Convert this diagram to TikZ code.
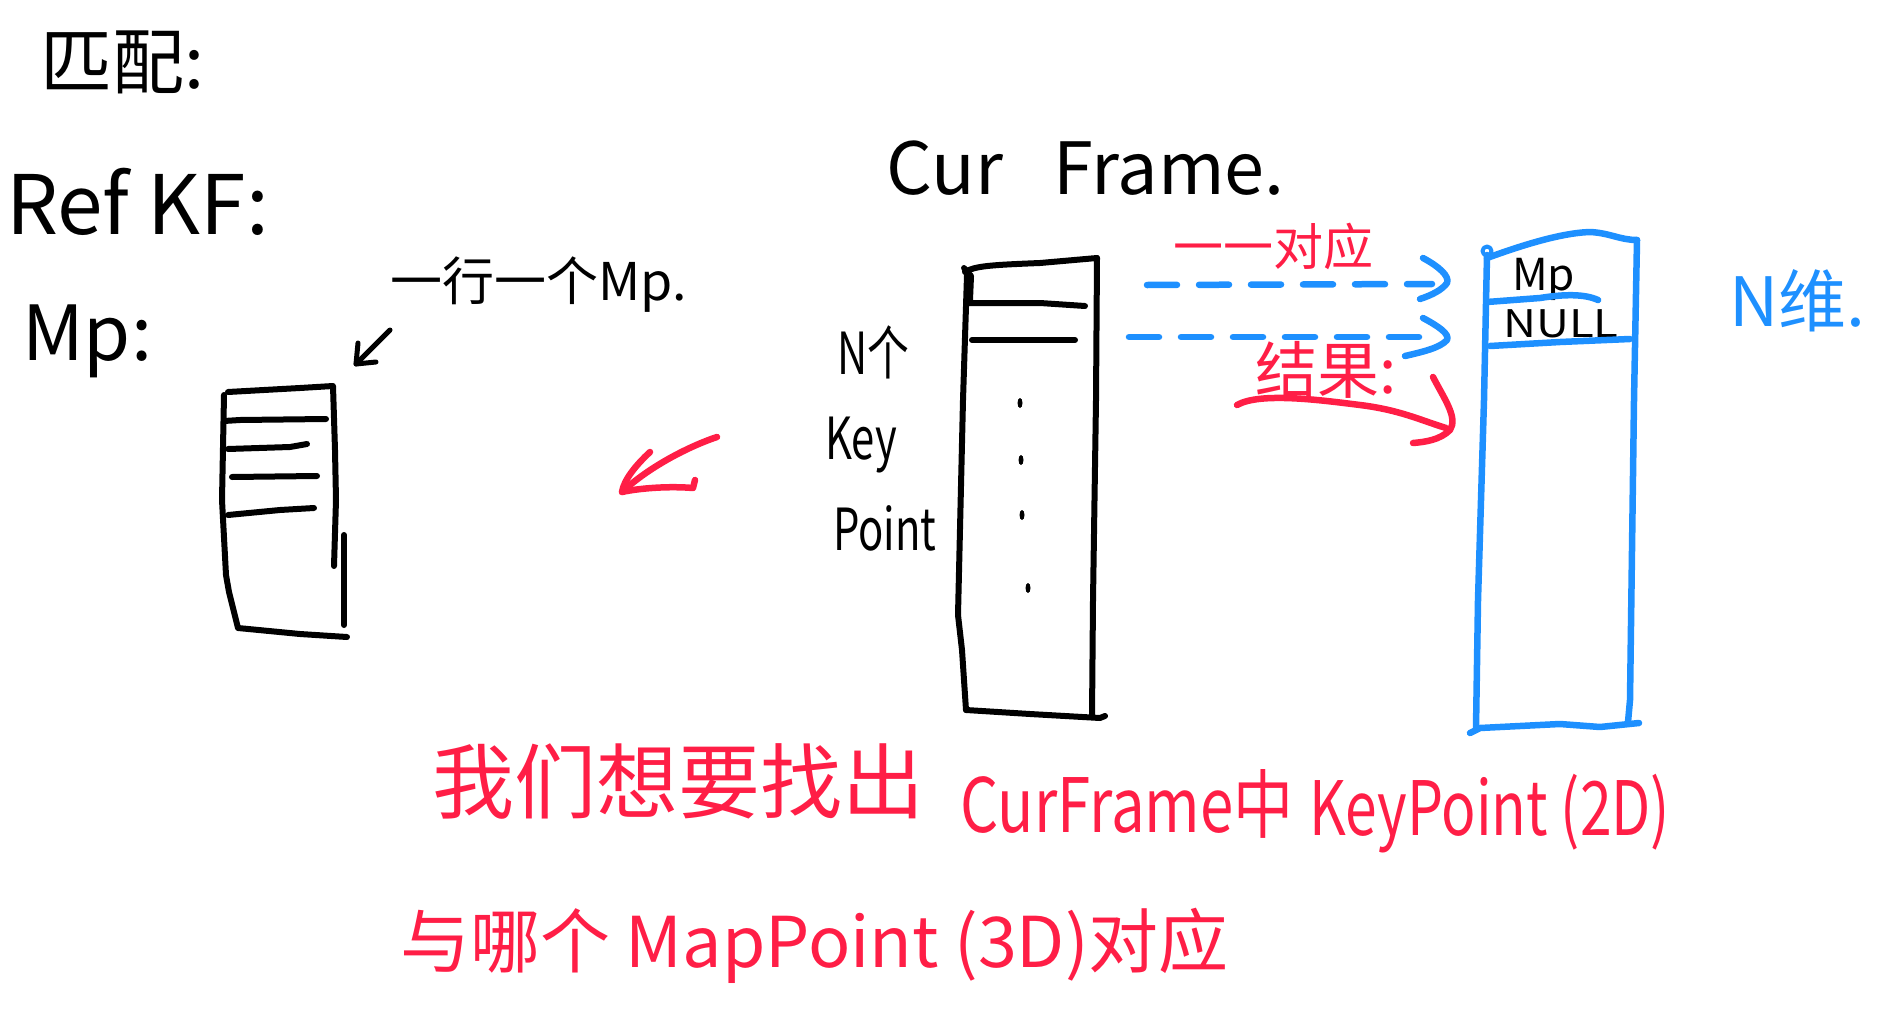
\documentclass[tikz,border=0pt]{standalone}
\usepackage{fontspec}
\setmainfont{Noto Sans CJK SC}
\definecolor{hred}{RGB}{255,30,70}
\definecolor{hblue}{RGB}{30,144,255}
\newcommand{\fsz}[1]{\fontsize{#1}{#1}\selectfont}
\begin{document}
\begin{tikzpicture}[x=1pt,y=-1pt,line cap=round,line join=round,
  txt/.style={inner sep=0pt,anchor=base west},
  ink/.style={line width=6pt,black},
  bink/.style={line width=6.5pt,hblue},
  rink/.style={line width=6.5pt,hred},
  dotk/.style={black}]
\useasboundingbox (0,0) rectangle (1883,1009);

% ---------- texts ----------
\node[txt,font=\fsz{72}] (title) at (40,88) {匹配:};
\node[txt,font=\fsz{82}] (refkf) at (6,234) {Ref KF:};
\node[txt,font=\fsz{76}] (mplab) at (22,360) {Mp:};
\node[txt,font=\fsz{52}] (rowmp) at (390,300) {一行一个Mp.};
\node[txt,font=\fsz{72}] (curf) at (886,194) {Cur\hspace{0.7em}Frame.};
\node[txt,font=\fsz{58},xscale=0.72] (nge) at (837,374) {N个};
\node[txt,font=\fsz{58},xscale=0.72] (key) at (825,459) {Key};
\node[txt,font=\fsz{58},xscale=0.72] (point) at (833,550) {Point};
\node[txt,font=\fsz{44}] (mpcell) at (1512,290) {Mp};
\node[txt,font=\fsz{38},xscale=1.2] (nullcell) at (1503,337) {NULL};
\node[txt,font=\fsz{68},text=hblue] (ndim) at (1729,326) {N维.};
\node[txt,font=\fsz{50},text=hred] (corr) at (1173,265) {一一对应};
\node[txt,font=\fsz{62},text=hred] (result) at (1255,393) {结果:};
\node[txt,font=\fsz{82},text=hred] (l1a) at (432,812) {我们想要找出};
\node[txt,font=\fsz{75},text=hred,xscale=0.8] (l1b) at (960,832) {CurFrame中};
\node[txt,font=\fsz{75},text=hred,xscale=0.76] (l1c) at (1309,835) {KeyPoint (2D)};
\node[txt,font=\fsz{70},text=hred] (l2) at (400,967) {与哪个 MapPoint (3D)对应};

% ---------- Ref KF box ----------
\draw[ink] (228,392) -- (300,388) -- (333,386) -- (335,450) -- (336,500) -- (334,566);
\draw[ink] (344,535) -- (344,625);
\draw[ink] (224,395) -- (222,500) -- (226,575) -- (229,592) -- (238,628) -- (300,634) -- (347,637);
\draw[ink] (224,421) -- (240,420) -- (326,419);
\draw[ink] (228,449) -- (290,447) -- (307,444);
\draw[ink] (232,477) -- (317,476);
\draw[ink] (228,515) -- (280,510) -- (314,508);
\coordinate (lboxTR) at (356,364);
\coordinate (rowmpTail) at (390,330);
% small arrow
\draw[ink,line width=5pt] (rowmpTail) -- (lboxTR);
\draw[ink,line width=5pt] (358,343) -- (lboxTR) -- (376,362);

% ---------- Cur Frame box ----------
\draw[ink] (965,272) .. controls (975,266) and (990,265) .. (1040,263) -- (1097,258);
\draw[ink] (964,268) -- (971,276) -- (970,300);
\draw[ink] (1097,258) -- (1096,400) -- (1093,600) -- (1092,716);
\draw[ink] (967,275) -- (963,400) -- (958,615) -- (962,650) -- (966,710);
\draw[ink] (966,710) -- (1030,714) -- (1100,718) -- (1105,716);
\draw[ink] (968,303) -- (1040,303) -- (1085,306);
\draw[ink] (972,340) -- (1075,340);
\foreach \p in {(1020,403),(1021,460),(1022,515),(1028,588)}
  \fill[dotk] \p ellipse (2.5 and 5);

% ---------- result box ----------
\draw[bink] (1487,258) .. controls (1520,246) and (1560,233) .. (1590,232)
            .. controls (1610,233) and (1620,240) .. (1637,240);
\draw[bink,line width=4pt] (1487,251) circle (4.5);
\draw[bink] (1487,255) -- (1484,400) -- (1478,600) -- (1476,728);
\draw[bink] (1637,240) -- (1634,400) -- (1630,700) -- (1628,722);
\draw[bink] (1470,733) -- (1480,728) -- (1560,724) -- (1600,727) -- (1639,723);
\draw[bink] (1487,302) -- (1540,298) .. controls (1565,294) and (1585,294) .. (1598,300);
\draw[bink] (1490,346) -- (1560,342) -- (1630,339);

% ---------- blue dashed arrows ----------
\coordinate (kpA) at (1147,285);
\coordinate (mpA) at (1432,284);
\coordinate (kpB) at (1129,337);
\coordinate (mpB) at (1425,337);
\draw[bink,dash pattern=on 30pt off 22pt] (kpA) -- (mpA);
\draw[bink] (1423,258) .. controls (1438,266) and (1450,276) .. (1447,283)
            .. controls (1442,290) and (1432,295) .. (1420,299);
\draw[bink,dash pattern=on 30pt off 22pt] (kpB) -- (mpB);
\draw[bink] (1423,318) .. controls (1438,326) and (1450,334) .. (1447,340)
            .. controls (1440,348) and (1422,352) .. (1405,356);

% ---------- red arrows ----------
\coordinate (resS) at (1237,405);
\coordinate (resE) at (1446,428);
\draw[rink] (resS) .. controls (1260,392) and (1320,400) .. (1360,405)
            .. controls (1400,410) and (1420,420) .. (resE);
\draw[rink] (1433,377) .. controls (1445,400) and (1458,418) .. (1450,430)
            .. controls (1440,440) and (1425,442) .. (1413,443);
\coordinate (bigS) at (717,437);
\coordinate (bigE) at (622,492);
\draw[rink] (bigS) .. controls (690,446) and (650,466) .. (bigE);
\draw[rink] (650,452) .. controls (635,466) and (624,480) .. (bigE)
            .. controls (640,488) and (670,486) .. (693,488) -- (695,480);
\end{tikzpicture}
\end{document}
